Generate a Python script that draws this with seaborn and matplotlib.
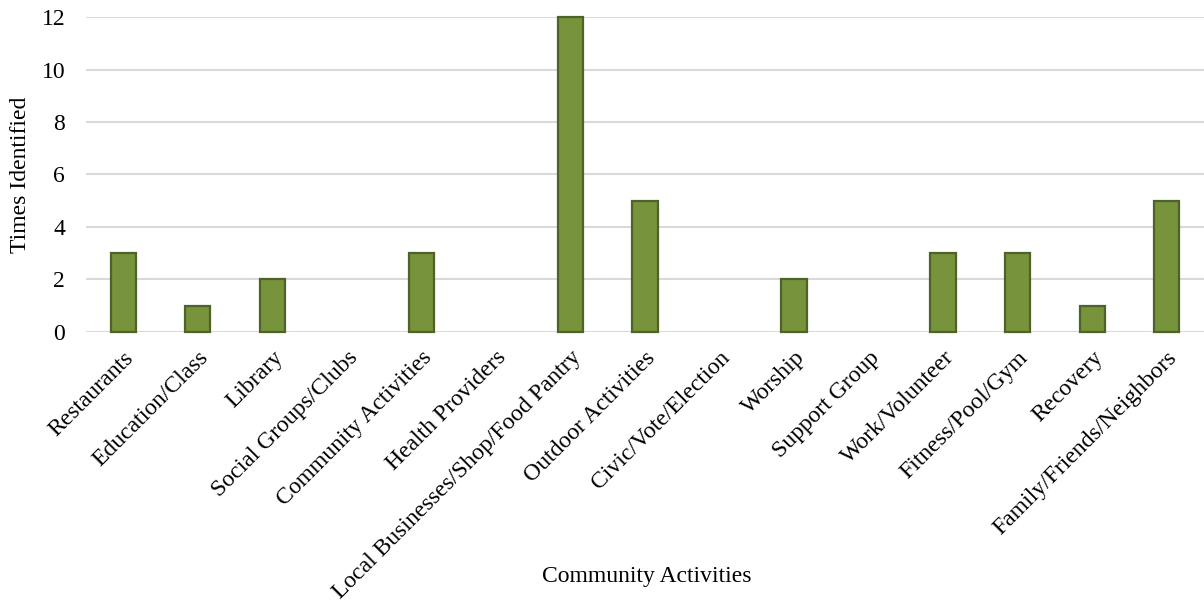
import matplotlib
matplotlib.use("Agg")
import matplotlib.pyplot as plt
import seaborn as sns
import pandas as pd

activities = [
    "Restaurants", "Education/Class", "Library", "Social Groups/Clubs",
    "Community Activities", "Health Providers", "Local Businesses/Shop/Food Pantry",
    "Outdoor Activities", "Civic/Vote/Election", "Worship", "Support Group",
    "Work/Volunteer", "Fitness/Pool/Gym", "Recovery", "Family/Friends/Neighbors",
]
times_identified = [3, 1, 2, 0, 3, 0, 12, 5, 0, 2, 0, 3, 3, 1, 5]
y_ticks = [0, 2, 4, 6, 8, 10, 12]

sns.set_theme(style="white")
plt.rcParams["font.family"] = ["Liberation Serif", "DejaVu Serif"]

df = pd.DataFrame({"activity": activities, "times": times_identified})

fig = plt.figure(figsize=(12.04, 6.08), dpi=100)
ax = fig.add_axes([0.0714, 0.454, 0.9286, 0.518])

sns.barplot(data=df, x="activity", y="times", ax=ax, width=0.34,
            color="#77933C", saturation=1, edgecolor="#4F6228", linewidth=1.6,
            zorder=3)

# empty categories get no outline stub
for p in ax.patches:
    p.set_clip_on(False)
    if p.get_height() == 0:
        p.set_linewidth(0)

ax.set_ylim(0, 12)
ax.set_yticks(y_ticks)
ax.set_yticklabels([str(t) for t in y_ticks], fontsize=17, color="black")
ax.yaxis.grid(True, color="#D9D9D9", linewidth=1.5, zorder=0)
ax.set_axisbelow(True)
for s in ax.spines.values():
    s.set_visible(False)
ax.tick_params(axis="both", length=0)
ax.tick_params(axis="y", pad=15)
ax.set_xlim(-0.5, len(activities) - 0.5)
ax.set_xticks(range(len(activities)))
ax.set_xticklabels(activities, rotation=45, ha="right", rotation_mode="anchor",
                   fontsize=17, color="black")
ax.tick_params(axis="x", pad=11)

ax.set_xlabel("Community Activities", fontsize=17, color="black")
ax.xaxis.label.set_va("center")
ax.xaxis.set_label_coords(0.502, -0.775)
ax.set_ylabel("Times Identified", fontsize=17, color="black")
ax.yaxis.label.set_va("center")
ax.yaxis.set_label_coords(-0.059, 0.5)

fig.savefig("out.png", dpi=100)
